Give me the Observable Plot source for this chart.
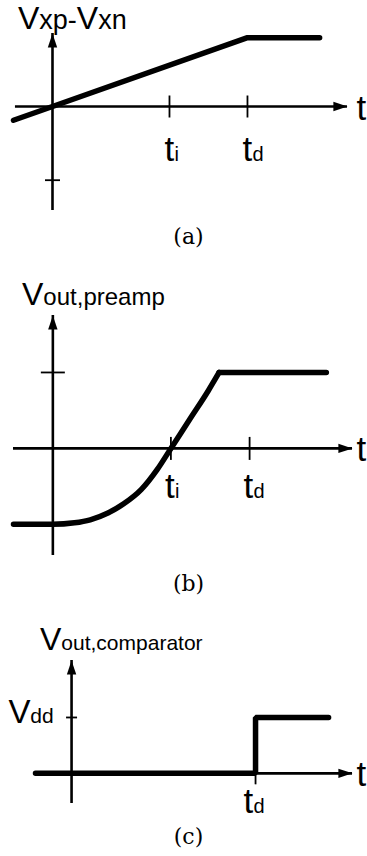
<!DOCTYPE html>
<html>
<head>
<meta charset="utf-8">
<script src="https://cdn.jsdelivr.net/npm/d3@7"></script>
<script src="https://cdn.jsdelivr.net/npm/@observablehq/plot@0.6"></script>
<style>
  html, body { margin: 0; padding: 0; background: #fff; }
  #page { position: relative; width: 367px; height: 856px; overflow: hidden;
          font-family: "Liberation Sans", Arial, sans-serif; color: #000; }
  .panel { position: absolute; left: 0; }
  .panel svg { background: transparent !important; }
  .title { position: absolute; white-space: nowrap; font-size: 32px; line-height: 24px; z-index: 2; }
  .title .sub { font-size: 24px; }
  .title .sub.wide { font-size: 27px; }
  .title .sub.narrow { font-size: 21px; }
  .cap { position: absolute; left: 5px; width: 367px; text-align: center; z-index: 2;
         font-family: "DejaVu Serif", serif; font-size: 22px; line-height: 22px; }
</style>
</head>
<body>
<div id="page"></div>
<script>
// Time is measured in units where the tick ti = 6 and td = 10.
const tickTimes = [6, 10];
const tickSubs = ["i", "d"];

// (a) differential input Vxp - Vxn
const aTime = [-2, 0, 10, 13.7];
const aVolt = [-0.2, 0, 1, 1];
const aAxisX = [-1.9, 15.13];
const aAxisY = [-1.51, 1.06];
const aTickY = [-1.07];

// (b) preamplifier output: rising part, then saturated top
const bTime = [-2, 0, 1.1, 1.9, 2.8, 3.6, 4.5, 5.3, 6, 7, 7.9, 8.45];
const bVolt = [-1, -1, -0.98, -0.94, -0.85, -0.73, -0.54, -0.28, 0, 0.4, 0.76, 1];
const bTopTime = [8.45, 13.9];
const bTopVolt = [1, 1];
const bAxisX = [-2, 15.23];
const bAxisY = [-1.41, 1.75];
const bTickY = [1];

// (c) comparator output: low until td, then Vdd
const cTime = [-1.96, 10, 13.97];
const cVolt = [0, 1, 1];
const cTicks = [10];
const cTickSubs = ["d"];
const cAxisX = [-1.96, 15.27];
const cAxisY = [-0.54, 2.02];
const cTickY = [1];

// ---- drawing helpers ----
const FONT = "Liberation Sans, Arial, sans-serif";
const BIG = 35, SUB = 20;
const rad = size => Math.sqrt(size / Math.PI);
const arrowRight = { draw(c, s) { const r = rad(s); c.moveTo(0, 0); c.lineTo(-3 * r, -r); c.lineTo(-3 * r, r); c.closePath(); } };
const arrowUp = { draw(c, s) { const r = rad(s); c.moveTo(0, 0); c.lineTo(-r, 3 * r); c.lineTo(r, 3 * r); c.closePath(); } };
const vBar = { draw(c, s) { const r = rad(s); c.moveTo(0, -r); c.lineTo(0, r); } };
const vBarDown = { draw(c, s) { const r = rad(s); c.moveTo(0, 0); c.lineTo(0, r); } };
const hBar = { draw(c, s) { const r = rad(s); c.moveTo(-r, 0); c.lineTo(r, 0); } };

// axis lines with arrowheads, tick marks and the "t" at the end of the time axis
function axes(ax, ay, xTickSym, xTickR, xTicks, yTicks, yTickR, tGap) {
  return [
    Plot.ruleY([0], { x1: ax[0], x2: ax[1], stroke: "black", strokeWidth: 2.6 }),
    Plot.ruleX([0], { y1: ay[0], y2: ay[1], stroke: "black", strokeWidth: 2.6 }),
    Plot.dot([ax[1]], { x: d => d, y: 0, symbol: arrowRight, r: 4.7, fill: "black", stroke: "none" }),
    Plot.dot([ay[1]], { x: 0, y: d => d, symbol: arrowUp, r: 4.7, fill: "black", stroke: "none" }),
    Plot.dot(xTicks, { x: d => d, y: 0, symbol: xTickSym, r: xTickR, fill: "none", stroke: "black", strokeWidth: 1.8 }),
    Plot.dot(yTicks, { x: 0, y: d => d, symbol: hBar, r: yTickR, fill: "none", stroke: "black", strokeWidth: 1.8 }),
    Plot.text(["t"], { x: ax[1], y: 0, text: d => d, dx: tGap, dy: 13, textAnchor: "start", lineAnchor: "bottom", fontSize: BIG, fontFamily: FONT })
  ];
}

// "t" with a subscript under each time tick
function tickLabels(ticks, subs, dx, dy) {
  return [
    Plot.text(ticks, { x: d => d, y: 0, text: () => "t", dx: dx, dy: dy, textAnchor: "start", lineAnchor: "bottom", fontSize: BIG, fontFamily: FONT }),
    Plot.text(ticks, { x: d => d, y: 0, text: (d, i) => subs[i], dx: dx + 10, dy: dy, textAnchor: "start", lineAnchor: "bottom", fontSize: SUB, fontFamily: FONT })
  ];
}

const page = document.getElementById("page");
function place(el, top) {
  const div = document.createElement("div");
  div.className = "panel";
  div.style.top = top + "px";
  div.appendChild(el);
  page.appendChild(div);
}
function addHTML(cls, top, left, html) {
  const d = document.createElement("div");
  d.className = cls;
  d.style.top = top + "px";
  if (left != null) d.style.left = left + "px";
  d.innerHTML = html;
  page.appendChild(d);
}

// (a)
place(Plot.plot({
  width: 367, height: 225,
  marginTop: 33, marginBottom: 15, marginLeft: 13, marginRight: 20,
  x: { domain: [-2, aAxisX[1]] }, y: { domain: aAxisY },
  axis: null,
  marks: [
    ...axes(aAxisX, aAxisY, vBar, 11, tickTimes, aTickY, 7.5, 9),
    ...tickLabels(tickTimes, tickSubs, -5, 54),
    Plot.line(aTime, { x: aTime, y: aVolt, stroke: "black", strokeWidth: 5.5, strokeLinecap: "round", strokeLinejoin: "round" })
  ]
}), 0);

// (b)
place(Plot.plot({
  width: 367, height: 330,
  marginTop: 65, marginBottom: 25, marginLeft: 13, marginRight: 15,
  x: { domain: bAxisX }, y: { domain: bAxisY },
  axis: null,
  marks: [
    ...axes(bAxisX, bAxisY, vBar, 11.5, tickTimes, bTickY, 12, 4),
    ...tickLabels(tickTimes, tickSubs, -6, 50),
    Plot.line(bTime, { x: bTime, y: bVolt, curve: "monotone-x", stroke: "black", strokeWidth: 5.5, strokeLinecap: "round" }),
    Plot.line(bTopTime, { x: bTopTime, y: bTopVolt, stroke: "black", strokeWidth: 5.5, strokeLinecap: "round" })
  ]
}), 250);

// (c)
place(Plot.plot({
  width: 367, height: 276,
  marginTop: 80, marginBottom: 53, marginLeft: 35, marginRight: 15,
  x: { domain: cAxisX }, y: { domain: cAxisY },
  axis: null,
  marks: [
    ...axes(cAxisX, cAxisY, vBarDown, 11, cTicks, cTickY, 5.5, 4),
    ...tickLabels(cTicks, cTickSubs, -12, 40),
    Plot.text(cTickY, { x: 0, y: d => d, text: () => "dd", dx: -18, dy: 6, textAnchor: "end", lineAnchor: "bottom", fontSize: 21, fontFamily: FONT }),
    Plot.text(cTickY, { x: 0, y: d => d, text: () => "V", dx: -41, dy: 6, textAnchor: "end", lineAnchor: "bottom", fontSize: 33, fontFamily: FONT }),
    Plot.line(cTime, { x: cTime, y: cVolt, curve: "step-after", stroke: "black", strokeWidth: 5.5, strokeLinecap: "round", strokeLinejoin: "miter" })
  ]
}), 580);

// Titles (baseline sits 23px below the box top) and captions
addHTML("title", 6, 18, 'V<span class="sub wide">xp-</span>V<span class="sub wide">xn</span>');
addHTML("title", 282, 22, 'V<span class="sub">out,preamp</span>');
addHTML("title", 627, 40, 'V<span class="sub narrow">out,comparator</span>');
addHTML("cap", 226, null, "(a)");
addHTML("cap", 573, null, "(b)");
addHTML("cap", 826, null, "(c)");
</script>
</body>
</html>
